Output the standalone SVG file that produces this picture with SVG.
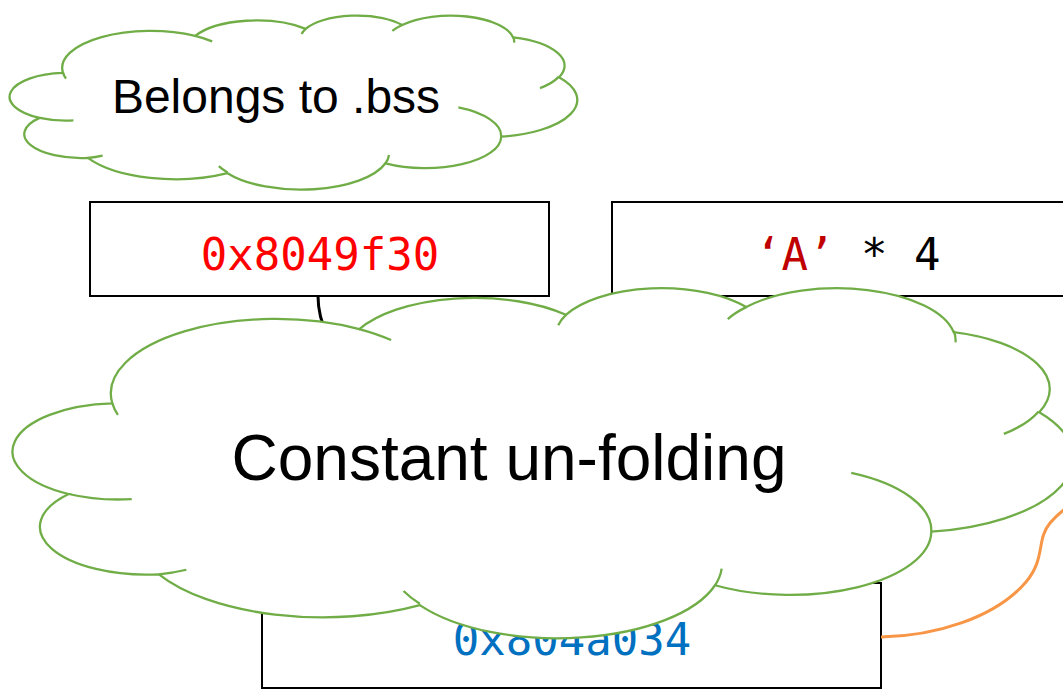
<svg xmlns="http://www.w3.org/2000/svg" width="1063" height="690" viewBox="0 0 1063 690">
  <defs>
    <style>
      .box { fill: #ffffff; stroke: #000000; stroke-width: 2; }
      .cloud-fill { fill: #ffffff; stroke: #70AD47; stroke-width: 2.3; vector-effect: non-scaling-stroke; }
      .cloud-line { fill: none; stroke: #70AD47; stroke-width: 2.3; vector-effect: non-scaling-stroke; }
      .mono { font-family: "DejaVu Sans Mono", "Liberation Mono", monospace; font-size: 44px; }
      .sans { font-family: "Liberation Sans", Arial, sans-serif; fill: #000000; }
      .link { fill: none; stroke-width: 3; }
    </style>
    <!-- cloud outline in a 43200 x 43200 unit box -->
    <path id="cloud-body" class="cloud-fill" d="M3900,14370 A6753,9190 0 0 1 14005,5202 A5333,7267 0 0 1 22456,3432 A4365,5945 0 0 1 29833,2481 A4857,6595 0 0 1 38318,5576 A5333,7273 0 0 1 41819,15460 A6775,9220 0 0 1 37404,30203 A5785,7867 0 0 1 28556,36814 A6752,9215 0 0 1 16481,39265 A7720,10543 0 0 1 5805,35470 A4360,5918 0 0 1 2114,25549 A4345,5945 0 0 1 3900,14370 Z"/>
    <!-- inner lobe strokes -->
    <path id="cloud-tails" class="cloud-line" d="M4693,26177 A4345,5945 0 0 1 2114,25549 M6928,34899 A4360,5918 0 0 1 5805,35470 M16478,39090 A6752,9215 0 0 1 15813,37524 M28827,34751 A6752,9215 0 0 1 28556,36814 M34129,22954 A5785,7867 0 0 1 37404,30203 M41798,15354 A5333,7273 0 0 1 40371,18136 M38324,5426 A4857,6595 0 0 1 38395,6840 M29078,3952 A4857,6595 0 0 1 29833,2481 M22141,4720 A4365,5945 0 0 1 22456,3432 M14000,5192 A6753,9190 0 0 1 15305,6550 M4127,15789 A6753,9190 0 0 1 3900,14370"/>
  </defs>

  <rect width="1063" height="690" fill="#ffffff"/>

  <!-- note cloud: .bss -->
  <g id="note-bss">
    <g transform="translate(12,15) scale(0.013079,0.0040278)">
      <use href="#cloud-body"/>
      <use href="#cloud-tails"/>
    </g>
    <text class="sans" x="276" y="113" font-size="48" text-anchor="middle">Belongs to .bss</text>
  </g>

  <g id="addr-bss">
    <rect class="box" x="90" y="202" width="459" height="94"/>
    <text class="mono" x="320" y="270" text-anchor="middle" fill="#FF0000">0x8049f30</text>
  </g>

  <g id="payload">
    <rect class="box" x="612" y="202" width="480" height="94"/>
    <text class="mono" x="755" y="270" fill="#000000"><tspan fill="#C00000">‘A’</tspan> * 4</text>
  </g>

  <g id="addr-target">
    <rect class="box" x="262" y="583" width="619" height="105"/>
    <text class="mono" x="572" y="655" text-anchor="middle" fill="#0070C0">0x804a034</text>
  </g>

  <g id="connectors">
    <path class="link" stroke="#000000" d="M318,296 C318,420 572,460 572,583"/>
    <path class="link" stroke="#F79646" d="M881,637 C935,636 995,618 1026,582 C1046,558 1036,540 1050,523 C1056,516 1062,510 1075,502"/>
  </g>

  <!-- note cloud: constant un-folding -->
  <g id="note-unfolding">
    <g transform="translate(17,287) scale(0.024444,0.0081019)">
      <use href="#cloud-body"/>
      <use href="#cloud-tails"/>
    </g>
    <text class="sans" x="509" y="480" font-size="64" text-anchor="middle">Constant un-folding</text>
  </g>
</svg>
